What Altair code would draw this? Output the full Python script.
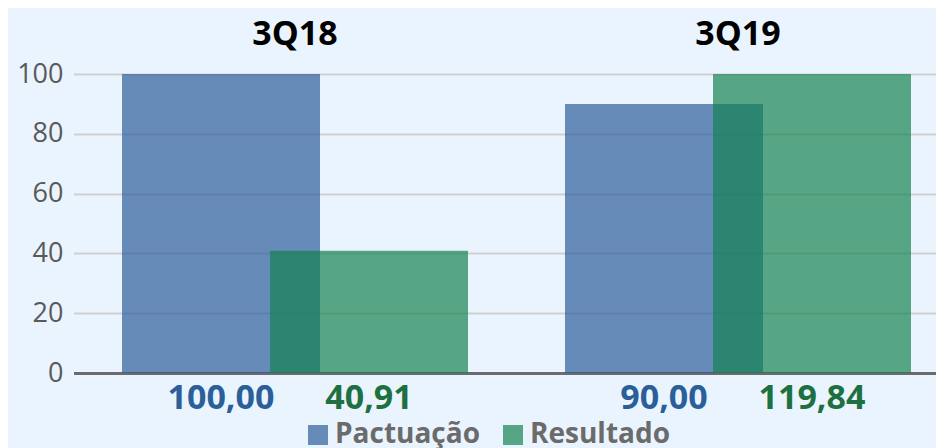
import altair as alt
import pandas as pd

# ---- data ----
periods = ["3Q18", "3Q19"]
series = ["Pactuação", "Resultado"]
pactuacao = [100.00, 90.00]
resultado = [40.91, 119.84]

blue = "#2A5C99"
green = "#138250"
blue_text = "#2A5F9A"
green_text = "#1E7040"

rows = []
for p, v in zip(periods, pactuacao):
    rows.append({"periodo": p, "serie": series[0], "valor": v,
                 "rotulo": f"{v:.2f}".replace(".", ",")})
for p, v in zip(periods, resultado):
    rows.append({"periodo": p, "serie": series[1], "valor": v,
                 "rotulo": f"{v:.2f}".replace(".", ",")})
df = pd.DataFrame(rows)

FONT = "Open Sans"

x_enc = alt.X(
    "periodo:N",
    scale=alt.Scale(domain=periods, range=[0.5, 886.5], paddingInner=0, paddingOuter=0),
    axis=alt.Axis(orient="top", title=None, labelAngle=0, domain=False, ticks=False,
                  grid=False, labelFont=FONT, labelFontWeight="bold", labelFontSize=34,
                  labelColor="#000000", labelPadding=30, labelBaseline="alphabetic"),
)

y_enc = alt.Y(
    "valor:Q",
    scale=alt.Scale(domain=[0, 100], clamp=True, nice=False),
    axis=alt.Axis(values=[0, 20, 40, 60, 80, 100], title=None, domain=False, ticks=False,
                  labelFont=FONT, labelFontSize=27, labelColor="#595959", labelPadding=10,
                  gridColor={"expr": "datum.value === 0 ? '#6B6B6B' : '#CFCFCF'"},
                  gridWidth={"expr": "datum.value === 0 ? 3 : 2"}),
)

color_enc = alt.Color(
    "serie:N",
    scale=alt.Scale(domain=series, range=[blue, green]),
    legend=alt.Legend(orient="none", legendX=231, legendY=347, direction="horizontal",
                      title=None, symbolType="square", symbolSize=400, symbolStrokeWidth=0,
                      symbolOpacity=0.69, labelFont=FONT, labelFontSize=28,
                      labelFontWeight="bold", labelColor="#6B6B6B", labelOffset=3,
                      columnPadding=18),
)

base = alt.Chart(df)

bars_p = base.transform_filter(alt.datum.serie == series[0]).mark_bar(
    width=198, xOffset=-74, opacity=0.69, clip=True
).encode(x=x_enc, y=y_enc, color=color_enc)

bars_r = base.transform_filter(alt.datum.serie == series[1]).mark_bar(
    width=198, xOffset=74, opacity=0.69, clip=True
).encode(x=x_enc, y=y_enc, color=color_enc)

txt_p = base.transform_filter(alt.datum.serie == series[0]).mark_text(
    xOffset=-74, font=FONT, fontSize=34, fontWeight="bold", color=blue_text,
    baseline="alphabetic", align="center"
).encode(x=x_enc, y=alt.value(335), text="rotulo:N")

txt_r = base.transform_filter(alt.datum.serie == series[1]).mark_text(
    xOffset=74, font=FONT, fontSize=34, fontWeight="bold", color=green_text,
    baseline="alphabetic", align="center"
).encode(x=x_enc, y=alt.value(335), text="rotulo:N")

chart = alt.layer(bars_p, bars_r, txt_p, txt_r).properties(
    width=863, height=299,
    autosize=alt.AutoSizeParams(type="none"),
    padding={"left": 65, "top": 66, "right": 0, "bottom": 75},
    background="#EAF4FE",
).configure_view(stroke=None)

chart.save("out.html", embed_options={"renderer": "svg", "actions": False})
